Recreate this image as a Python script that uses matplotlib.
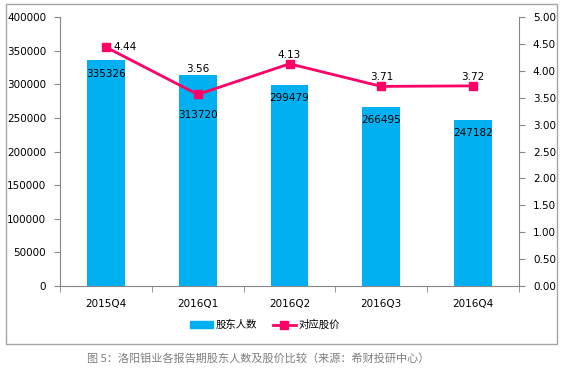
import numpy as np
import matplotlib.pyplot as plt
from matplotlib.patches import Rectangle
from matplotlib.lines import Line2D

plt.rcParams['font.family'] = ['DejaVu Sans', 'Noto Sans CJK SC']

# data
quarters = ['2015Q4', '2016Q1', '2016Q2', '2016Q3', '2016Q4']
holders = [335326, 313720, 299479, 266495, 247182]
prices = [4.44, 3.56, 4.13, 3.71, 3.72]

bar_color = '#00B0F0'
line_color = '#FF0066'
grey = '#868686'

fig = plt.figure(figsize=(5.65, 3.70), dpi=100)

# outer frame
fig.patches.append(Rectangle((6 / 565, 1 - 344 / 370), 551 / 565, 340 / 370,
                             transform=fig.transFigure, fill=False,
                             edgecolor='#A6A6A6', linewidth=1))

ax = fig.add_axes([60 / 565, 1 - 286 / 370, 459 / 565, 269 / 370])
x = np.arange(len(quarters))
bars = ax.bar(x, holders, width=0.41, color=bar_color, zorder=2)
ax.set_xlim(-0.5, len(quarters) - 0.5)
ax.set_ylim(0, 400000)
ax.set_yticks(np.arange(0, 400001, 50000))
ax.set_yticklabels([str(v) for v in range(0, 400001, 50000)], fontsize=7.5)
ax.set_xticks(x)
ax.set_xticklabels(quarters, fontsize=7.5)
ax.tick_params(axis='x', length=0, pad=9)
ax.set_xticks(np.arange(-0.5, len(quarters)), minor=True)
ax.tick_params(axis='x', which='minor', length=4, color=grey)
ax.tick_params(axis='y', length=4, color=grey, pad=6)
for s in ['top', 'right']:
    ax.spines[s].set_visible(False)
for s in ['left', 'bottom']:
    ax.spines[s].set_color(grey)

# bar labels (second one pushed down by Excel to clear the marker)
bar_offsets = [-9.5, -29, -9.5, -9.5, -9.5]
for xi, v, off in zip(x, holders, bar_offsets):
    ax.annotate(str(v), (xi, v), xytext=(0, off), textcoords='offset points',
                ha='center', va='center', fontsize=7.5, zorder=5)

ax2 = ax.twinx()
ax2.plot(x, prices, color=line_color, linewidth=2, marker='s', markersize=6, zorder=4)
ax2.set_ylim(0, 5)
ax2.set_yticks(np.arange(0, 5.01, 0.5))
ax2.set_yticklabels([f'{v:.2f}' for v in np.arange(0, 5.01, 0.5)], fontsize=7.5)
ax2.tick_params(axis='y', length=4, color=grey, pad=6)
for s in ['top', 'left', 'bottom']:
    ax2.spines[s].set_visible(False)
ax2.spines['right'].set_color(grey)

price_offsets = [(14, 0), (0, 18), (0, 6.5), (0, 6.5), (0, 6.5)]
for xi, v, (dx, dy) in zip(x, prices, price_offsets):
    ax2.annotate(f'{v:.2f}', (xi, v), xytext=(dx, dy), textcoords='offset points',
                 ha='center', va='center', fontsize=7.5)

handles = [Rectangle((0, 0), 1, 1, color=bar_color),
           Line2D([0], [0], color=line_color, linewidth=2, marker='s', markersize=6)]
fig.legend(handles, ['股东人数', '对应股价'], loc='center',
           bbox_to_anchor=(265 / 565, 1 - 325 / 370), ncol=2, frameon=False,
           prop={'family': ['Noto Sans CJK SC'], 'size': 7.5},
           handlelength=2.2, columnspacing=1.5, handletextpad=0.3)

fig.text(258 / 565, 1 - 358 / 370, '图 5：洛阳钼业各报告期股东人数及股价比较（来源：希财投研中心）',
         ha='center', va='center', fontsize=8, color='#7F7F7F',
         family=['Noto Sans CJK SC', 'DejaVu Sans'])

fig.savefig('out.png', dpi=100)
